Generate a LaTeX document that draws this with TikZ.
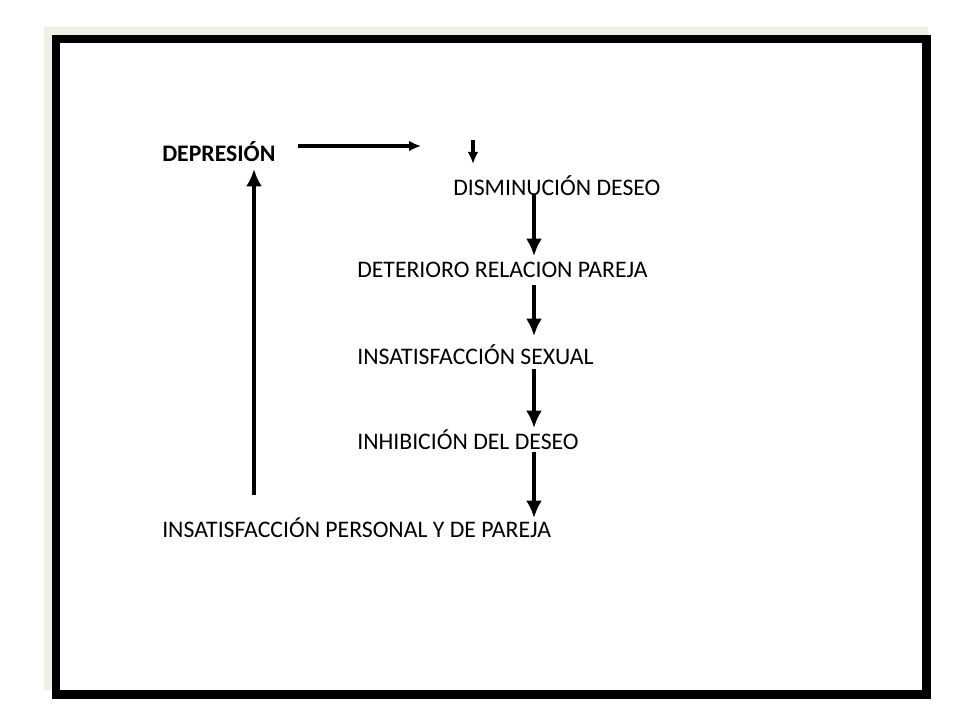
\documentclass[tikz,border=0pt]{standalone}
\usepackage{fontspec}
\setmainfont{Carlito}
\usetikzlibrary{arrows.meta}
\begin{document}
\begin{tikzpicture}[x=0.75pt,y=-0.75pt,
  lbl/.style={anchor=west,inner sep=0pt,font=\fontsize{17.8}{20}\selectfont},
  thin arr/.style={line width=2.3pt,-{Latex[length=9pt,width=8pt]}},
  thick arr/.style={line width=3.2pt,-{Latex[length=13pt,width=12pt]}}]
\useasboundingbox (0,0) rectangle (960,720);
\fill[white] (0,0) rectangle (960,720);
\fill[black!7!white!96!yellow] (44,27) rectangle (928,690);
\fill[black] (52,35) rectangle (931,699);
\fill[white] (60,43) rectangle (922,690);
\node[lbl,font=\fontsize{17.8}{20}\selectfont\bfseries] (dep) at (162,152) {DEPRESIÓN};
\node[lbl] (dis) at (453,186) {DISMINUCIÓN DESEO};
\node[lbl] (det) at (357,270) {DETERIORO RELACION PAREJA};
\node[lbl] (ins) at (357,355) {INSATISFACCIÓN SEXUAL};
\node[lbl] (inh) at (357,440) {INHIBICIÓN DEL DESEO};
\node[lbl] (per) at (162,528) {INSATISFACCIÓN PERSONAL Y DE PAREJA};
\coordinate (h1) at (298,146); \coordinate (h2) at (421,146);
\coordinate (s1) at (473,140); \coordinate (s2) at (473,164);
\coordinate (a1) at (534,195); \coordinate (a2) at (534,256);
\coordinate (b1) at (534,285); \coordinate (b2) at (534,336);
\coordinate (c1) at (534,369); \coordinate (c2) at (534,428);
\coordinate (d1) at (534,452); \coordinate (d2) at (534,518);
\coordinate (u1) at (254,495); \coordinate (u2) at (254,169);
\draw[thin arr] (h1) -- (h2);
\draw[thin arr] (s1) -- (s2);
\draw[thick arr] (a1) -- (a2);
\draw[thick arr] (b1) -- (b2);
\draw[thick arr] (c1) -- (c2);
\draw[thick arr] (d1) -- (d2);
\draw[thick arr] (u1) -- (u2);
\end{tikzpicture}
\end{document}
